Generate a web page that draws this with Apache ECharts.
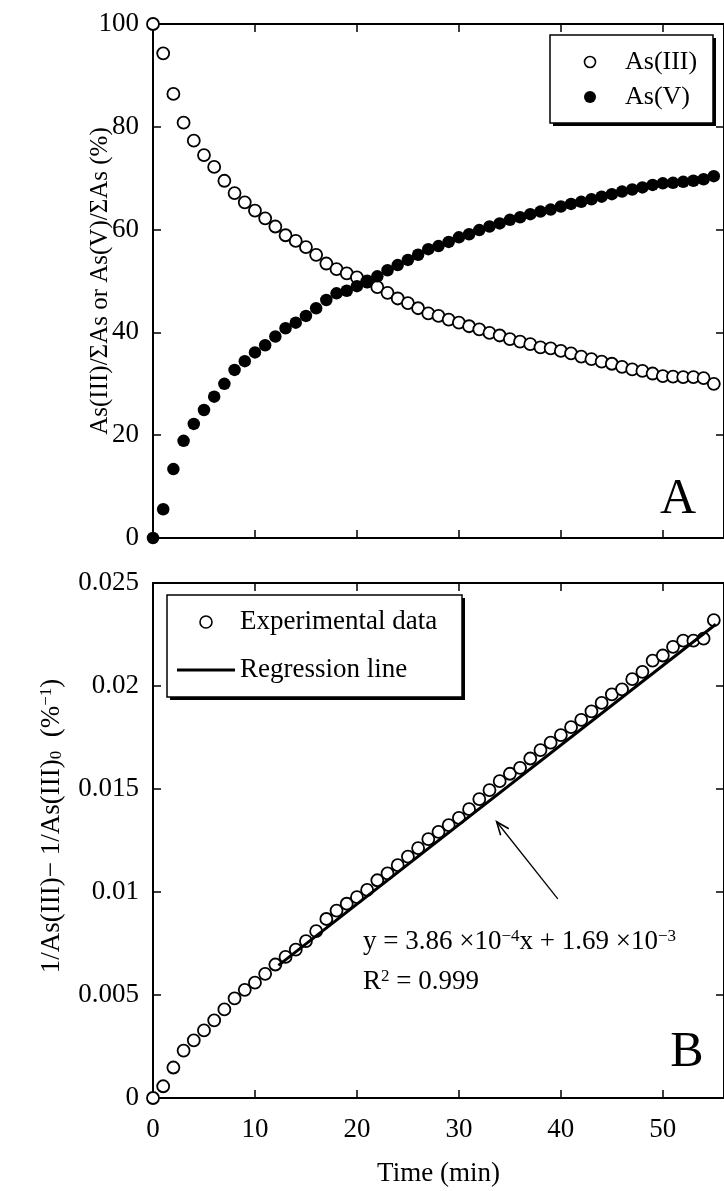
<!DOCTYPE html>
<html>
<head>
<meta charset="utf-8">
<script src="https://cdn.jsdelivr.net/npm/echarts@6/dist/echarts.min.js"></script>
<style>
  html, body { margin: 0; padding: 0; background: #fff; }
  #chart { width: 724px; height: 1191px; }
</style>
</head>
<body>
<div id="chart"></div>
<script>
// Sampling times (min)
const timeMin = [0,1,2,3,4,5,6,7,8,9,10,11,12,13,14,15,16,17,18,19,20,21,22,23,24,25,26,27,
  28,29,30,31,32,33,34,35,36,37,38,39,40,41,42,43,44,45,46,47,48,49,50,51,52,53,54,55];

// Panel A: fraction of total arsenic (%)
const asIII = [100,94.3,86.4,80.8,77.3,74.5,72.2,69.5,67.1,65.3,63.7,62.2,60.6,58.9,57.8,56.6,
  55.1,53.4,52.3,51.5,50.7,49.9,48.8,47.7,46.6,45.7,44.7,43.7,43.2,42.5,41.9,41.2,40.6,39.9,
  39.4,38.7,38.2,37.7,37.1,36.9,36.4,35.9,35.3,34.8,34.3,33.9,33.3,32.8,32.5,32.0,31.5,31.4,
  31.3,31.3,31.1,30.0];
const asV = [0,5.6,13.4,18.9,22.2,24.9,27.5,30.0,32.7,34.4,36.1,37.5,39.2,40.8,41.9,43.2,
  44.7,46.3,47.6,48.1,49.0,49.8,50.9,52.1,53.1,54.1,55.1,56.2,56.8,57.6,58.5,59.1,59.9,60.6,
  61.2,61.9,62.4,63.0,63.5,63.9,64.5,65.0,65.4,65.9,66.4,66.9,67.4,67.8,68.2,68.7,69.0,69.1,
  69.3,69.5,69.8,70.4];

// Panel B: second-order plot, 1/As(III) - 1/As(III)0 (%^-1)
const invDiff = [0,0.00057,0.00148,0.0023,0.0028,0.00328,0.00377,0.0043,0.00484,0.00525,
  0.0056,0.00603,0.00648,0.00685,0.0072,0.00762,0.0081,0.00869,0.0091,0.00943,0.00975,0.0101,
  0.01057,0.0109,0.0113,0.01172,0.01213,0.01257,0.01292,0.01325,0.0136,0.01402,0.01451,0.01495,
  0.01538,0.01574,0.01603,0.01648,0.01689,0.01725,0.01762,0.018,0.01836,0.01877,0.01918,0.01959,
  0.01984,0.02033,0.02069,0.02123,0.02148,0.0219,0.0222,0.0222,0.0223,0.0232];

// Fitted regression: y = 3.86e-4 x + 1.69e-3, drawn over the fitted range
const regSlope = 3.86e-4;
const regIntercept = 1.69e-3;
const regRange = [12.3, 55.2];

// Tick values
const xTicks = [0, 10, 20, 30, 40, 50];

// Arrow pointing from the equation to the regression line (data coordinates of panel B)
const arrowFrom = [39.7, 0.00967];
const arrowTo = [33.7, 0.01341];

// Legend entries
const legendA = ['As(III)', 'As(V)'];
const legendB = ['Experimental data', 'Regression line'];

const FONT = 'Liberation Serif, Times New Roman, serif';
const zip = (xs, ys) => xs.map((x, i) => [x, ys[i]]);
const regLine = regRange.map(x => [x, regSlope * x + regIntercept]);

const axisLineStyle = { lineStyle: { color: '#000', width: 2 } };
const tickStyle = { inside: true, length: 8, lineStyle: { color: '#000', width: 1.5 } };

function xAxis(grid, position, showLabels, name) {
  return {
    type: 'value', gridIndex: grid, position, min: 0, max: 56, interval: 10,
    axisLine: { show: true, onZero: false, ...axisLineStyle },
    axisTick: { show: true, ...tickStyle, customValues: xTicks },
    axisLabel: { show: showLabels, customValues: xTicks, margin: 18,
      fontFamily: FONT, fontSize: 27, color: '#000' },
    splitLine: { show: false },
    name: name || '', nameLocation: 'middle', nameGap: 62,
    nameTextStyle: { fontFamily: FONT, fontSize: 27, color: '#000' }
  };
}
function yAxis(grid, position, showLabels, max, interval) {
  return {
    type: 'value', gridIndex: grid, position, min: 0, max, interval,
    axisLine: { show: true, onZero: false, ...axisLineStyle },
    axisTick: { show: true, ...tickStyle },
    axisLabel: { show: showLabels, margin: 14, fontFamily: FONT, fontSize: 27, color: '#000' },
    splitLine: { show: false }
  };
}

const openSymbol = { color: '#fff', borderColor: '#000', borderWidth: 1.8, opacity: 1 };
const filledSymbol = { color: '#000', opacity: 1 };
const richScript = {
  sub: { fontFamily: FONT, fontSize: 17, verticalAlign: 'bottom', fill: '#000' },
  sup: { fontFamily: FONT, fontSize: 17, verticalAlign: 'top', fill: '#000' }
};

// Boxed legend with a solid drop shadow
function legendBox(x, y, w, h, children) {
  return {
    type: 'group', x, y,
    children: [
      { type: 'rect', shape: { x: 3, y: 3, width: w, height: h }, style: { fill: '#000' } },
      { type: 'rect', shape: { x: 0, y: 0, width: w, height: h },
        style: { fill: '#fff', stroke: '#000', lineWidth: 1.5 } }
    ].concat(children)
  };
}
function legendText(x, y, text, size) {
  return { type: 'text', x, y, style: { text, fontFamily: FONT, fontSize: size, fill: '#000',
    verticalAlign: 'middle' } };
}

// Arrow with an open V head, positioned through the axes of panel B
function renderArrow(params, api) {
  const p1 = api.coord([api.value(0), api.value(1)]);
  const p2 = api.coord([api.value(2), api.value(3)]);
  const ang = Math.atan2(p2[1] - p1[1], p2[0] - p1[0]);
  const headLen = 14, spread = 0.38;
  const wing = s => [p2[0] - headLen * Math.cos(ang + s * spread),
                     p2[1] - headLen * Math.sin(ang + s * spread)];
  return {
    type: 'group',
    children: [
      { type: 'line', shape: { x1: p1[0], y1: p1[1], x2: p2[0], y2: p2[1] },
        style: { stroke: '#000', lineWidth: 1.3 } },
      { type: 'polyline', shape: { points: [wing(1), p2, wing(-1)] },
        style: { stroke: '#000', lineWidth: 1.6, fill: null } }
    ]
  };
}

const chart = echarts.init(document.getElementById('chart'), null, { renderer: 'canvas' });
chart.setOption({
  animation: false,
  backgroundColor: '#fff',
  grid: [
    { left: 153, top: 24, width: 575, height: 514 },
    { left: 153, top: 583, width: 575, height: 515 }
  ],
  xAxis: [
    xAxis(0, 'bottom', false),
    xAxis(0, 'top', false),
    xAxis(1, 'bottom', true, 'Time (min)'),
    xAxis(1, 'top', false)
  ],
  yAxis: [
    yAxis(0, 'left', true, 100, 20),
    yAxis(0, 'right', false, 100, 20),
    yAxis(1, 'left', true, 0.025, 0.005),
    yAxis(1, 'right', false, 0.025, 0.005)
  ],
  series: [
    { name: legendA[0], type: 'scatter', xAxisIndex: 0, yAxisIndex: 0, clip: false,
      symbol: 'circle', symbolSize: 12, itemStyle: openSymbol, data: zip(timeMin, asIII) },
    { name: legendA[1], type: 'scatter', xAxisIndex: 0, yAxisIndex: 0, clip: false,
      symbol: 'circle', symbolSize: 12.5, itemStyle: filledSymbol, data: zip(timeMin, asV) },
    { name: legendB[0], type: 'scatter', xAxisIndex: 2, yAxisIndex: 2, clip: false,
      symbol: 'circle', symbolSize: 12, itemStyle: openSymbol, data: zip(timeMin, invDiff) },
    { name: legendB[1], type: 'line', xAxisIndex: 2, yAxisIndex: 2,
      symbol: 'none', lineStyle: { color: '#000', width: 3 }, itemStyle: { color: '#000' },
      data: regLine, z: 3 },
    { name: 'arrow', type: 'custom', xAxisIndex: 2, yAxisIndex: 2, silent: true, clip: false,
      encode: { x: [0, 2], y: [1, 3] }, renderItem: renderArrow,
      data: [[arrowFrom[0], arrowFrom[1], arrowTo[0], arrowTo[1]]], z: 4 }
  ],
  graphic: [
    // axis titles
    { type: 'text', x: 100, y: 281, rotation: Math.PI / 2,
      style: { text: 'As(III)/ΣAs or As(V)/ΣAs (%)', align: 'center', verticalAlign: 'middle',
        fontFamily: FONT, fontSize: 25, fill: '#000' } },
    { type: 'text', x: 52, y: 826, rotation: Math.PI / 2,
      style: { text: '1/As(III)\u2212 1/As(III){sub|0}  (%{sup|\u22121})', align: 'center',
        verticalAlign: 'middle', fontFamily: FONT, fontSize: 27, fill: '#000', rich: richScript } },
    // legends
    legendBox(550, 35, 163, 88, [
      { type: 'circle', shape: { cx: 40, cy: 27, r: 5.5 },
        style: { fill: '#fff', stroke: '#000', lineWidth: 1.6 } },
      legendText(75, 27, legendA[0], 26),
      { type: 'circle', shape: { cx: 40, cy: 62, r: 6 }, style: { fill: '#000' } },
      legendText(75, 62, legendA[1], 26)
    ]),
    legendBox(167, 595, 295, 102, [
      { type: 'circle', shape: { cx: 39, cy: 27, r: 6 },
        style: { fill: '#fff', stroke: '#000', lineWidth: 1.6 } },
      legendText(73, 27, legendB[0], 27),
      { type: 'line', shape: { x1: 10, y1: 75, x2: 68, y2: 75 },
        style: { stroke: '#000', lineWidth: 3 } },
      legendText(73, 75, legendB[1], 27)
    ]),
    // regression annotation
    { type: 'text', x: 363, y: 928,
      style: { text: 'y = 3.86 \u00d710{sup|\u22124}x + 1.69 \u00d710{sup|\u22123}',
        fontFamily: FONT, fontSize: 27, fill: '#000', rich: richScript } },
    { type: 'text', x: 363, y: 968,
      style: { text: 'R{sup|2} = 0.999', fontFamily: FONT, fontSize: 27, fill: '#000',
        rich: richScript } },
    // panel letters
    { type: 'text', x: 678, y: 500,
      style: { text: 'A', align: 'center', verticalAlign: 'middle', fontFamily: FONT,
        fontSize: 50, fill: '#000' } },
    { type: 'text', x: 687, y: 1053,
      style: { text: 'B', align: 'center', verticalAlign: 'middle', fontFamily: FONT,
        fontSize: 50, fill: '#000' } }
  ]
});
</script>
</body>
</html>
